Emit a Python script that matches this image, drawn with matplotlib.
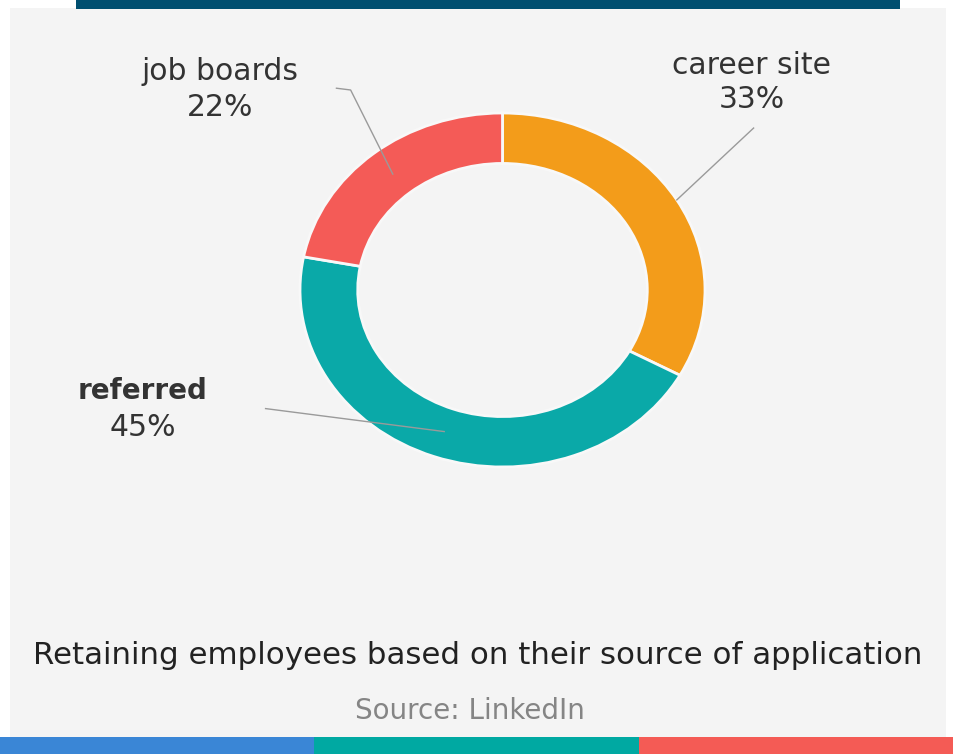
import numpy as np
import matplotlib
matplotlib.use("Agg")
import matplotlib.pyplot as plt
from matplotlib.patches import Rectangle

plt.rcParams['font.family'] = ['DejaVu Sans']

categories = ["career site", "referred", "job boards"]
values = [33, 45, 22]
colors = ["#f39c1a", "#0aa9a8", "#f45b57"]
title = "Retaining employees based on their source of application"
source = "Source: LinkedIn"

W, H = 954, 754
fig = plt.figure(figsize=(W / 100, H / 100), dpi=100)
fig.patch.set_facecolor("white")

# background axes in pixel coordinates (top-down)
bg = fig.add_axes([0, 0, 1, 1])
bg.set_xlim(0, W)
bg.set_ylim(H, 0)
bg.axis("off")
bg.add_patch(Rectangle((10, 8), 936, 730, facecolor="#f4f4f4", edgecolor="none"))
bg.add_patch(Rectangle((76, 0), 824, 9, facecolor="#004f70", edgecolor="none"))
bg.add_patch(Rectangle((0, 737), 314, 17, facecolor="#3a86d6", edgecolor="none"))
bg.add_patch(Rectangle((314, 737), 325, 17, facecolor="#00a9a2", edgecolor="none"))
bg.add_patch(Rectangle((639, 737), 315, 17, facecolor="#f45b55", edgecolor="none"))

bg.text(478, 656, title, ha="center", va="center", fontsize=22.2, color="#222222")
bg.text(470, 711, source, ha="center", va="center", fontsize=20, color="#858585")

# donut axes
cx, cy, rx, ry = 502.5, 290, 202.5, 177
ax = fig.add_axes([(cx - rx) / W, (H - (cy + ry)) / H, 2 * rx / W, 2 * ry / H])
ax.axis("off")
wedges, _ = ax.pie(values, colors=colors, startangle=90, counterclock=False,
                   radius=1, wedgeprops=dict(width=0.285, edgecolor="#f8f8f8", linewidth=2))
ax.set_aspect("auto")
ax.set_xlim(-1, 1)
ax.set_ylim(-1, 1)

# leader lines from wedge mid angles
def mid(w):
    return np.deg2rad((w.theta1 + w.theta2) / 2)

line_kw = dict(color="#9a9a9a", lw=1, clip_on=False)
a = mid(wedges[0])
ax.plot([1.0 * np.cos(a), 1.24], [1.0 * np.sin(a), 0.915], **line_kw)
a = mid(wedges[2])
ax.plot([0.85 * np.cos(a), -0.75, -0.82], [0.85 * np.sin(a), 1.13, 1.14], **line_kw)
a = mid(wedges[1])
ax.plot([0.85 * np.cos(a), -1.17], [0.85 * np.sin(a), -0.67], **line_kw)

lab_color = "#333333"
fs = 21.5
bg.text(752, 65, categories[0], ha="center", va="center", fontsize=fs, color=lab_color)
bg.text(752, 100, f"{values[0]}%", ha="center", va="center", fontsize=fs, color=lab_color)
bg.text(220, 72, categories[2], ha="center", va="center", fontsize=fs, color=lab_color)
bg.text(220, 107, f"{values[2]}%", ha="center", va="center", fontsize=fs, color=lab_color)
bg.text(143, 391, categories[1], ha="center", va="center", fontsize=20, color=lab_color, fontweight="bold")
bg.text(143, 428, f"{values[1]}%", ha="center", va="center", fontsize=fs, color=lab_color)

fig.savefig("out.png", dpi=100, facecolor=fig.get_facecolor())
